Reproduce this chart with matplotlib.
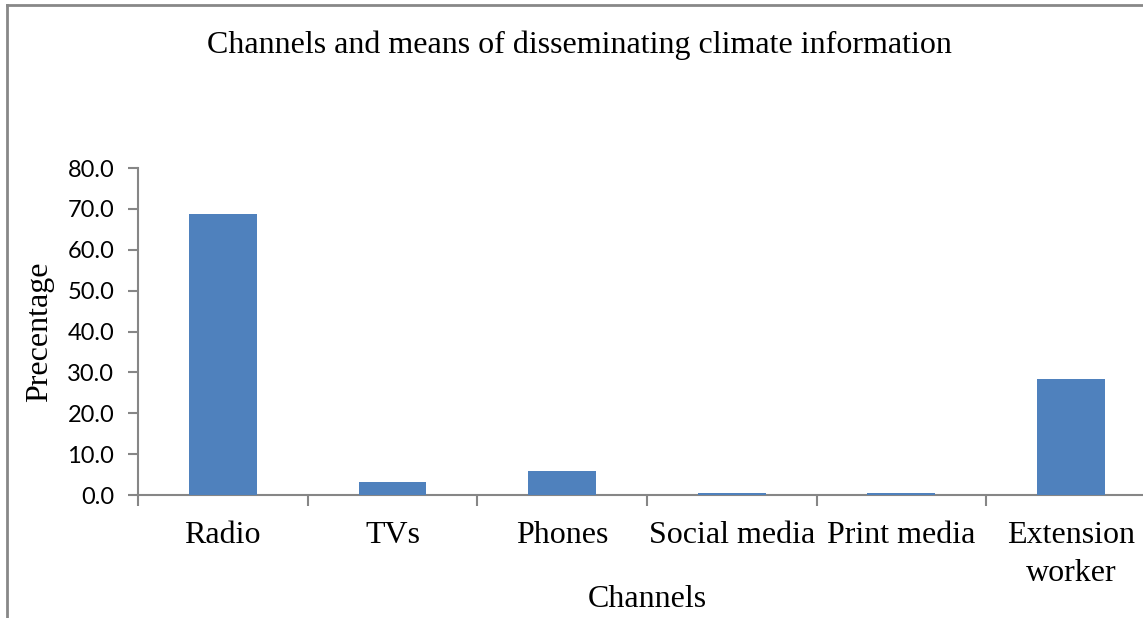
import numpy as np
import matplotlib
matplotlib.use("Agg")
import matplotlib.pyplot as plt
from matplotlib.lines import Line2D

channels = ["Radio", "TVs", "Phones", "Social media", "Print media",
            "Extension\nworker"]
percentage = [68.7, 3.3, 5.9, 0.5, 0.5, 28.3]
y_ticks = [0, 10, 20, 30, 40, 50, 60, 70, 80]

SERIF = ["Liberation Serif", "DejaVu Serif"]
AXIS_GREY = "#868686"

fig = plt.figure(figsize=(11.43, 6.18), dpi=100)
# plot area runs a little past the right edge of the canvas
ax = fig.add_axes([0.1207, 0.199, 0.8906, 0.529])

x = np.arange(len(channels))
ax.bar(x, percentage, width=0.4, color="#4F81BD", zorder=3)

ax.set_xlim(-0.5, len(channels) - 0.5)
ax.set_ylim(0, 80)
ax.set_yticks(y_ticks)
ax.set_yticklabels([f"{v:.1f}" for v in y_ticks],
                   fontfamily="Lato", fontsize=17)

# category labels sit between the boundary tick marks
ax.set_xticks(np.arange(len(channels) + 1) - 0.5)
ax.set_xticklabels([])
ax.set_xticks(x, minor=True)
ax.set_xticklabels(channels, minor=True, fontfamily=SERIF, fontsize=23,
                   linespacing=1.38)
ax.tick_params(axis="x", which="minor", length=0, pad=19)
ax.tick_params(axis="x", which="major", length=8, width=1.5,
               color=AXIS_GREY, direction="out")
ax.tick_params(axis="y", length=7, width=1.5, color=AXIS_GREY,
               direction="out", pad=10)

for side in ("top", "right"):
    ax.spines[side].set_visible(False)
for side in ("left", "bottom"):
    ax.spines[side].set_color(AXIS_GREY)
    ax.spines[side].set_linewidth(1.5)

ax.set_ylabel("Precentage", fontfamily=SERIF, fontsize=23)
ax.yaxis.set_label_coords(-0.082, 0.5)
fig.text(0.566, 0.030, "Channels", ha="center", va="center",
         fontfamily=SERIF, fontsize=23)
fig.text(0.507, 0.927, "Channels and means of disseminating climate information",
         ha="center", va="center", fontfamily=SERIF, fontsize=23)

# outer chart border (left and top edges)
fig.add_artist(Line2D([7 / 1143, 7 / 1143], [0, 1 - 5 / 618],
                      transform=fig.transFigure, color="#888888", lw=2))
fig.add_artist(Line2D([7 / 1143, 1], [1 - 5 / 618, 1 - 5 / 618],
                      transform=fig.transFigure, color="#888888", lw=2))

fig.savefig("out.png", dpi=100)
